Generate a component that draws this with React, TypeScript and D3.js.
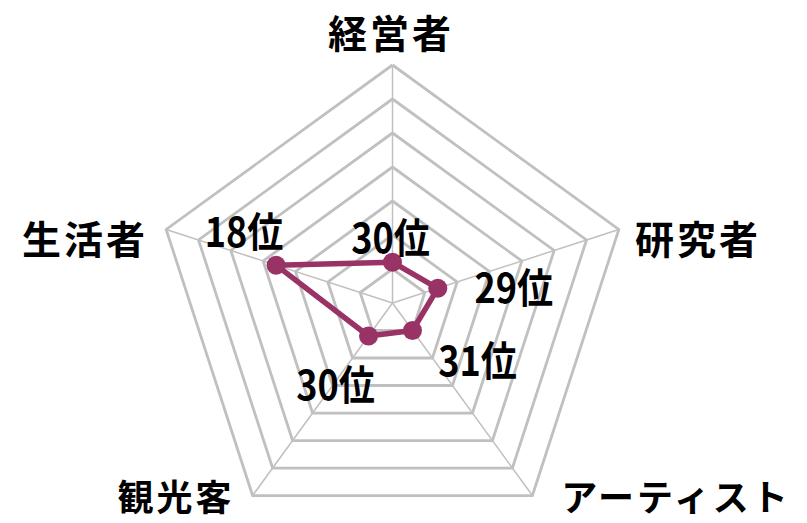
import * as d3 from "d3";

const categories = ["経営者", "研究者", "アーティスト", "観光客", "生活者"];
const ranks = [30, 29, 31, 30, 18];
const rankTicks = [31, 26, 21, 16, 11, 6, 1];

const WIDTH = 807;
const HEIGHT = 523;
const CX = 392.5;
const CY = 303;
const RADIUS = 238;

const LINE_COLOR = "#993366";
const GRID_COLOR = "#c0c0c0";
const FONT = "'Noto Sans CJK JP', 'Noto Sans', sans-serif";

// where the category names sit (ink centre)
const catLabelPos: [number, number][] = [
  [391, 31],
  [698, 237],
  [676, 495],
  [176, 495],
  [85, 237],
];

// data label offset from its point
const valueLabelOffset: [number, number][] = [
  [-2, -27],
  [76, -3],
  [65, 27],
  [-33, 46],
  [-32, -36],
];

export default function App() {
  const r = d3.scaleLinear().domain([36, 1]).range([0, RADIUS]);
  const angle = d3
    .scalePoint<number>()
    .domain(d3.range(categories.length + 1))
    .range([0, 2 * Math.PI]);

  const pos = (i: number, rv: number): [number, number] => {
    const a = angle(i % categories.length)!;
    return [CX + rv * Math.sin(a), CY - rv * Math.cos(a)];
  };

  const ring = (rv: number) =>
    d3.line()(categories.map((_, i) => pos(i, rv)).concat([pos(0, rv)])) as string;

  const points = ranks.map((v, i) => pos(i, r(v)));
  const dataPath = d3.line()(points.concat([points[0]])) as string;

  return (
    <svg
      width={WIDTH}
      height={HEIGHT}
      style={{ position: "absolute", left: 0, top: 0, background: "#fff" }}
    >
      {categories.map((c, i) => {
        const [x, y] = pos(i, RADIUS);
        return (
          <line key={c} x1={CX} y1={CY} x2={x} y2={y} stroke={GRID_COLOR} strokeWidth={1.5} />
        );
      })}
      {rankTicks.map((t) => (
        <path key={t} d={ring(r(t))} fill="none" stroke={GRID_COLOR} strokeWidth={2.8} strokeLinejoin="miter" />
      ))}

      <path d={dataPath} fill="none" stroke={LINE_COLOR} strokeWidth={5.5} strokeLinejoin="round" />
      {points.map(([x, y], i) => (
        <circle key={i} cx={x} cy={y} r={9.5} fill={LINE_COLOR} />
      ))}

      {points.map(([x, y], i) => (
        <g
          key={"v" + i}
          transform={`translate(${x + valueLabelOffset[i][0]},${y + valueLabelOffset[i][1]}) scale(0.88,1)`}
        >
          <text
            textAnchor="middle"
            dominantBaseline="central"
            fontFamily={FONT}
            fontWeight="bold"
            fontSize={41}
            fill="#000"
          >
            {ranks[i]}位
          </text>
        </g>
      ))}

      {categories.map((c, i) => (
        <text
          key={"c" + i}
          x={catLabelPos[i][0]}
          y={catLabelPos[i][1]}
          textAnchor="middle"
          dominantBaseline="central"
          fontFamily={FONT}
          fontWeight="bold"
          fontSize={i === 2 || i === 3 ? 36 : 39}
          letterSpacing={3}
          fill="#000"
        >
          {c}
        </text>
      ))}
    </svg>
  );
}
